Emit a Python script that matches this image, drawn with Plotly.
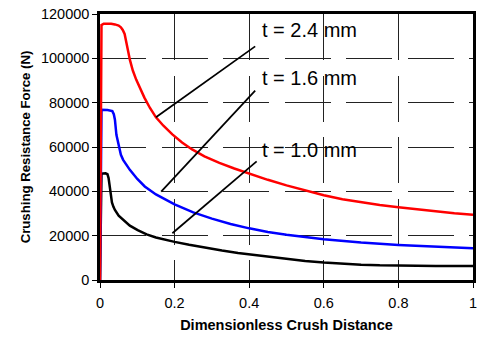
import plotly.graph_objects as go

# ---- data ----
x_24 = [0, 0.004, 0.01, 0.02, 0.03, 0.04, 0.05, 0.056, 0.061, 0.066, 0.071, 0.076, 0.08, 0.088,
        0.097, 0.108, 0.119, 0.134, 0.15, 0.17, 0.194, 0.22, 0.247, 0.28, 0.32, 0.36, 0.4, 0.45,
        0.5, 0.55, 0.6, 0.65, 0.7, 0.75, 0.8, 0.85, 0.9, 0.95, 1.0]
y_24 = [0, 115000, 115600, 115700, 115600, 115300, 114800, 114000, 112800, 111000, 107500, 102800, 99400, 94500,
        90400, 86300, 82300, 77600, 73400, 69600, 65700, 62000, 58900, 55800, 52800, 50300, 48000, 45200,
        42700, 40300, 38200, 36400, 35000, 33800, 32800, 31800, 30900, 30100, 29400]

x_16 = [0, 0.004, 0.02, 0.033, 0.037, 0.04, 0.044, 0.05, 0.056, 0.062, 0.07, 0.08, 0.1, 0.12, 0.15,
        0.175, 0.2, 0.25, 0.3, 0.35, 0.4, 0.45, 0.5, 0.6, 0.7, 0.8, 0.9, 1.0]
y_16 = [0, 76800, 76700, 76200, 74800, 72300, 65500, 60100, 56500, 54200, 52000, 49700, 45600, 42200, 38600,
        36200, 34100, 30500, 27700, 25300, 23300, 21700, 20400, 18400, 16900, 15800, 15000, 14300]

x_10 = [0, 0.004, 0.015, 0.02, 0.023, 0.026, 0.029, 0.032, 0.036, 0.04, 0.05, 0.066, 0.08, 0.101, 0.125,
        0.15, 0.175, 0.2, 0.239, 0.28, 0.327, 0.37, 0.416, 0.46, 0.5, 0.55, 0.6, 0.65, 0.7, 0.75, 0.8, 0.9, 1.0]
y_10 = [0, 48000, 48100, 47700, 46000, 42000, 38000, 35000, 33000, 31600, 29000, 26350, 24500, 22500, 20600,
        19200, 18100, 17200, 15900, 14600, 13300, 12200, 11200, 10300, 9500, 8600, 7900, 7300, 6900, 6600, 6450, 6330, 6330]

x_ticks = [0, 0.2, 0.4, 0.6, 0.8, 1]
x_tick_labels = ["0", "0.2", "0.4", "0.6", "0.8", "1"]
y_ticks = [0, 20000, 40000, 60000, 80000, 100000, 120000]
y_tick_labels = ["0", "20000", "40000", "60000", "80000", "100000", "120000"]

labels = ["t = 2.4 mm", "t = 1.6 mm", "t = 1.0 mm"]

FONT = "Arial, 'Liberation Sans', sans-serif"

fig = go.Figure()
line_common = dict(width=2.5, shape="linear")
fig.add_trace(go.Scatter(x=x_10, y=y_10, mode="lines", line=dict(color="black", **line_common), name="t = 1.0 mm"))
fig.add_trace(go.Scatter(x=x_16, y=y_16, mode="lines", line=dict(color="#0000ff", **line_common), name="t = 1.6 mm"))
fig.add_trace(go.Scatter(x=x_24, y=y_24, mode="lines", line=dict(color="#ff0000", **line_common), name="t = 2.4 mm"))

# leader lines and labels
leaders = [
    ((0.150, 73400), (0.416, 105400), (0.430, 112700)),
    ((0.164, 39900), (0.416, 85400), (0.430, 91300)),
    ((0.194, 21100), (0.420, 53500), (0.430, 58800)),
]
for lab, (p0, p1, pt) in zip(labels, leaders):
    fig.add_shape(type="line", xref="x", yref="y", x0=p0[0], y0=p0[1], x1=p1[0], y1=p1[1],
                  line=dict(color="black", width=1.75))
    fig.add_annotation(x=pt[0], y=pt[1], xref="x", yref="y", text=lab, showarrow=False,
                       xanchor="left", yanchor="middle",
                       font=dict(family=FONT, size=20, color="black"))

grid = dict(showgrid=True, gridcolor="#222222", gridwidth=1, griddash="46px,15.5px")

fig.update_xaxes(range=[0, 1], tickvals=x_ticks, ticktext=x_tick_labels,
                 ticks="outside", ticklen=5, tickcolor="black", tickwidth=1,
                 showline=True, linecolor="black", linewidth=2.5, mirror=True,
                 zeroline=False, layer="below traces", ticklabelstandoff=3,
                 tickfont=dict(family=FONT, size=14.5, color="black"),
                 title=dict(text="<b>Dimensionless Crush Distance</b>", standoff=10,
                            font=dict(family=FONT, size=14.5, color="black")),
                 **grid)
fig.update_yaxes(range=[0, 120000], tickvals=y_ticks, ticktext=y_tick_labels,
                 ticks="outside", ticklen=5, tickcolor="black", tickwidth=1,
                 showline=True, linecolor="black", linewidth=2.5, mirror=True,
                 zeroline=False, layer="below traces",
                 tickfont=dict(family=FONT, size=14.5, color="black"),
                 title=dict(text="<b>Crushing Resistance Force (N)</b>", standoff=8,
                            font=dict(family=FONT, size=13.2, color="black")),
                 **grid)

fig.update_layout(
    width=483, height=339,
    margin=dict(l=100, r=6, t=14, b=59),
    paper_bgcolor="white", plot_bgcolor="white",
    showlegend=False,
)

fig.write_html("out.html")
